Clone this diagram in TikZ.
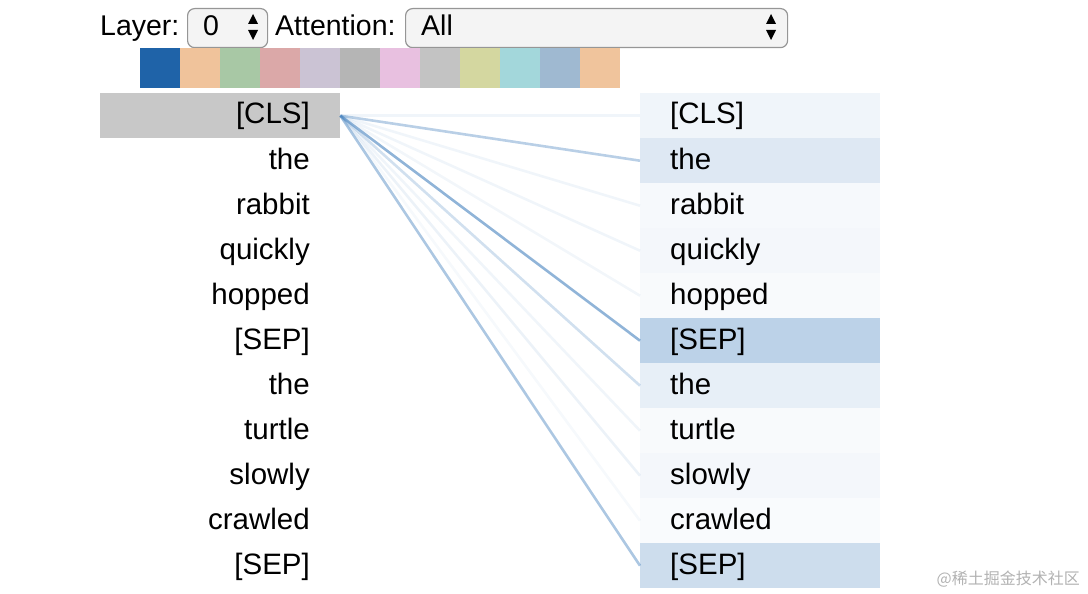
\documentclass[tikz,border=0pt]{standalone}
\usepackage{fontspec}
\setmainfont{Liberation Sans}
\newfontfamily\cjk{Noto Sans CJK SC}
\definecolor{attblue}{RGB}{70,130,190}
\definecolor{selgray}{RGB}{244,244,244}
\definecolor{selborder}{RGB}{150,150,150}
\definecolor{clsgray}{RGB}{200,200,200}
\definecolor{h0}{RGB}{31,99,168}
\definecolor{h1}{RGB}{240,195,155}
\definecolor{h2}{RGB}{168,200,165}
\definecolor{h3}{RGB}{219,168,168}
\definecolor{h4}{RGB}{203,195,212}
\definecolor{h5}{RGB}{181,181,181}
\definecolor{h6}{RGB}{232,192,224}
\definecolor{h7}{RGB}{195,195,195}
\definecolor{h8}{RGB}{212,215,160}
\definecolor{h9}{RGB}{163,215,219}
\definecolor{h10}{RGB}{159,185,209}
\definecolor{h11}{RGB}{240,196,156}
\tikzset{
  txt/.style={font=\fontsize{28.5}{34}\selectfont, inner sep=0pt},
  tok/.style={font=\fontsize{29.5}{35}\selectfont, inner sep=0pt},
  rowbox/.style={rectangle, minimum width=240pt, minimum height=45pt, inner sep=0pt, anchor=north west, draw=none},
  selbox/.style={rectangle, rounded corners=7pt, fill=selgray, draw=selborder, line width=1.2pt, inner sep=0pt, anchor=north west},
  swatch/.style={rectangle, minimum width=40pt, minimum height=40pt, inner sep=0pt, anchor=north west, draw=none},
  att/.style={draw=attblue, line width=2.6pt},
  tri/.style={fill=black, draw=none}
}
\begin{document}
\begin{tikzpicture}[x=1pt,y=-1pt]
\useasboundingbox (0,0) rectangle (1088,594);
% top controls
\node[txt, anchor=base west] (layerlbl) at (100,36) {Layer:};
\node[selbox, minimum width=80pt, minimum height=39pt] (lsel) at (187,8) {};
\node[txt, anchor=base west] (lval) at (203,36) {0};
\fill[tri] (248,24) -- (258,24) -- (253,14) -- cycle;
\fill[tri] (248,30) -- (258,30) -- (253,40) -- cycle;
\node[txt, anchor=base west] (attlbl) at (275,36) {Attention:};
\node[selbox, minimum width=382pt, minimum height=39pt] (asel) at (405,8) {};
\node[txt, anchor=base west] (aval) at (421,36) {All};
\fill[tri] (766,24) -- (776,24) -- (771,14) -- cycle;
\fill[tri] (766,30) -- (776,30) -- (771,40) -- cycle;
% head colour swatches
\foreach \k in {0,...,11}{
  \node[swatch, fill=h\k] (sw\k) at ({140+40*\k},48) {};
}
% left column
\foreach \w [count=\i from 0] in {{[CLS]},the,rabbit,quickly,hopped,{[SEP]},the,turtle,slowly,crawled,{[SEP]}}{
  \node[rowbox] (lb\i) at (100,{93+45*\i}) {};
}
\fill[clsgray] (lb0.north west) rectangle (lb0.south east);
\foreach \w [count=\i from 0] in {{[CLS]},the,rabbit,quickly,hopped,{[SEP]},the,turtle,slowly,crawled,{[SEP]}}{
  \node[tok, anchor=base east] (lt\i) at (310,{124+45*\i}) {\w};
}
% right column
\foreach \w/\f [count=\i from 0] in {{[CLS]}/8,the/18,rabbit/5,quickly/6,hopped/4,{[SEP]}/36,the/13,turtle/4,slowly/6,crawled/3,{[SEP]}/27}{
  \node[rowbox, fill=attblue!\f!white] (rb\i) at (640,{93+45*\i}) {};
  \node[tok, anchor=base west] (rt\i) at (670,{124+45*\i}) {\w};
}
% attention lines
\foreach \j/\o in {0/0.08,1/0.38,2/0.08,3/0.08,4/0.07,5/0.6,6/0.25,7/0.08,8/0.1,9/0.05,10/0.45}{
  \draw[att, draw opacity=\o] (lb0.east) -- (rb\j.west);
}
% watermark
\node[font=\cjk\fontsize{16}{18}\selectfont, text=black!30, anchor=base east, inner sep=0pt] (wm) at (1080,584) {@稀土掘金技术社区};
\end{tikzpicture}
\end{document}
